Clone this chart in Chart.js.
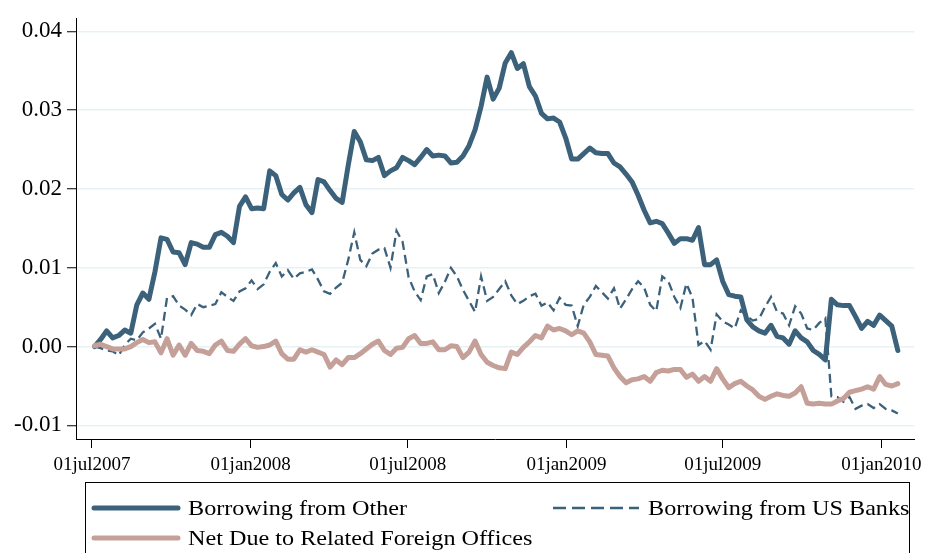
<!DOCTYPE html>
<html lang="en">
<head>
<meta charset="UTF-8">
<title>Borrowing</title>
<script src="https://cdn.jsdelivr.net/npm/chart.js"></script>
<style>
  body { margin: 0; background: #fff; }
  #wrap { position: relative; width: 928px; height: 553px; overflow: hidden; }
  #legend {
    position: absolute; left: 85px; top: 482px; width: 825px; height: 90px;
    border: 1px solid #000; box-sizing: border-box;
    font-family: "Liberation Serif", serif; font-size: 22px; color: #000;
  }
  .item { position: absolute; display: flex; align-items: center; height: 30px; white-space: nowrap; }
  .item svg { margin-right: 7px; }
  .item span { display: inline-block; transform: scaleX(1.1); transform-origin: left center; }
</style>
</head>
<body>
<div id="wrap">
  <canvas id="chart" width="928" height="553"></canvas>
  <div id="legend">
    <div class="item" style="left:5px; top:10px;">
      <svg width="90" height="10"><line x1="3" y1="5" x2="87" y2="5" stroke="rgb(60,97,122)" stroke-width="5" stroke-linecap="round"/></svg>
      <span>Borrowing from Other</span>
    </div>
    <div class="item" style="left:465px; top:10px;">
      <svg width="90" height="10"><line x1="2" y1="5" x2="88" y2="5" stroke="rgb(60,97,122)" stroke-width="2.5" stroke-dasharray="13,6"/></svg>
      <span>Borrowing from US Banks</span>
    </div>
    <div class="item" style="left:5px; top:40px;">
      <svg width="90" height="10"><line x1="3" y1="5" x2="87" y2="5" stroke="rgb(196,160,152)" stroke-width="5" stroke-linecap="round"/></svg>
      <span>Net Due to Related Foreign Offices</span>
    </div>
  </div>
</div>

<script>
// weekly observations, days counted from 01jul2007 (first week ends 04jul2007)
const firstDay = 3;
const tickDays = [0, 184, 366, 550, 731, 915];
const tickLabels = ['01jul2007', '01jan2008', '01jul2008', '01jan2009', '01jul2009', '01jan2010'];
const yTicks = [-0.01, 0, 0.01, 0.02, 0.03, 0.04];

const borrowingOther = [
  0, 0.0009, 0.0020, 0.0011, 0.0014, 0.0021, 0.0017, 0.0053, 0.0068, 0.0060,
  0.0095, 0.0138, 0.0136, 0.0120, 0.0119, 0.0104, 0.0132, 0.0130, 0.0126, 0.0126,
  0.0142, 0.0145, 0.0140, 0.0132, 0.0178, 0.0190, 0.0175, 0.0176, 0.0175, 0.0223,
  0.0217, 0.0193, 0.0186, 0.0195, 0.0202, 0.0180, 0.0170, 0.0212, 0.0209, 0.0198,
  0.0188, 0.0183, 0.0230, 0.0273, 0.0260, 0.0237, 0.0236, 0.0240, 0.0217, 0.0223,
  0.0227, 0.0240, 0.0236, 0.0231, 0.0240, 0.0250, 0.0242, 0.0243, 0.0242, 0.0233,
  0.0234, 0.0242, 0.0255, 0.0275, 0.0305, 0.0342, 0.0314, 0.0328, 0.0360, 0.0373,
  0.0353, 0.0359, 0.0330, 0.0318, 0.0296, 0.0289, 0.0290, 0.0285, 0.0265, 0.0238,
  0.0238, 0.0245, 0.0252, 0.0246, 0.0245, 0.0245, 0.0233, 0.0228, 0.0219, 0.0209,
  0.0192, 0.0173, 0.0157, 0.0159, 0.0156, 0.0144, 0.0131, 0.0137, 0.0137, 0.0135,
  0.0151, 0.0104, 0.0104, 0.0110, 0.0083, 0.0066, 0.0064, 0.0063, 0.0034, 0.0025,
  0.0020, 0.0017, 0.0027, 0.0013, 0.0011, 0.0003, 0.0020, 0.0011, 0.0006, -0.0005,
  -0.0010, -0.0017, 0.0060, 0.0053, 0.0052, 0.0052, 0.0038, 0.0023, 0.0032, 0.0027,
  0.0040, 0.0033, 0.0026, -0.0005
];

const borrowingUSBanks = [
  0, -0.0002, -0.0005, -0.0006, -0.0011, 0.0002, 0.0010, 0.0008, 0.0018, 0.0023,
  0.0029, 0.0010, 0.0062, 0.0064, 0.0052, 0.0047, 0.0040, 0.0054, 0.0050, 0.0052,
  0.0054, 0.0069, 0.0063, 0.0058, 0.0070, 0.0074, 0.0084, 0.0073, 0.0079, 0.0095,
  0.0106, 0.0089, 0.0097, 0.0086, 0.0093, 0.0095, 0.0098, 0.0085, 0.0070, 0.0067,
  0.0075, 0.0081, 0.0110, 0.0145, 0.0110, 0.0102, 0.0118, 0.0123, 0.0125, 0.0100,
  0.0147, 0.0133, 0.0088, 0.0070, 0.0059, 0.0089, 0.0092, 0.0068, 0.0082, 0.0100,
  0.0089, 0.0072, 0.0058, 0.0044, 0.0089, 0.0058, 0.0063, 0.0073, 0.0083, 0.0065,
  0.0054, 0.0058, 0.0064, 0.0067, 0.0052, 0.0056, 0.0046, 0.0062, 0.0053, 0.0052,
  0.0026, 0.0053, 0.0063, 0.0077, 0.0069, 0.0061, 0.0074, 0.0048, 0.0060, 0.0073,
  0.0083, 0.0075, 0.0053, 0.0045, 0.0089, 0.0083, 0.0063, 0.0049, 0.0080, 0.0062,
  0.0002, 0.0007, -0.0004, 0.0041, 0.0032, 0.0028, 0.0023, 0.0046, 0.0039, 0.0033,
  0.0035, 0.0050, 0.0063, 0.0044, 0.0042, 0.0027, 0.0051, 0.0042, 0.0023, 0.0021,
  0.0030, 0.0036, -0.0063, -0.0064, -0.0070, -0.0064, -0.0079, -0.0075, -0.0073, -0.0078,
  -0.0073, -0.0079, -0.0081, -0.0085
];

const netDueForeign = [
  0.0001, 0.0003, 0.0000, -0.0003, -0.0003, -0.0003, 0.0000, 0.0005, 0.0009, 0.0005,
  0.0006, -0.0008, 0.0010, -0.0011, 0.0002, -0.0011, 0.0004, -0.0005, -0.0006, -0.0009,
  0.0002, 0.0007, -0.0005, -0.0006, 0.0003, 0.0010, 0.0001, -0.0001, 0.0000, 0.0002,
  0.0007, -0.0009, -0.0016, -0.0016, -0.0004, -0.0007, -0.0004, -0.0007, -0.0010, -0.0026,
  -0.0017, -0.0023, -0.0014, -0.0014, -0.0009, -0.0003, 0.0003, 0.0007, -0.0005, -0.0010,
  -0.0002, -0.0001, 0.0010, 0.0014, 0.0004, 0.0004, 0.0006, -0.0004, -0.0004, 0.0001,
  0.0000, -0.0014, -0.0007, 0.0007, -0.0010, -0.0020, -0.0024, -0.0027, -0.0028, -0.0007,
  -0.0010, -0.0001, 0.0006, 0.0014, 0.0011, 0.0026, 0.0021, 0.0023, 0.0020, 0.0015,
  0.0020, 0.0017, 0.0006, -0.0010, -0.0011, -0.0012, -0.0027, -0.0038, -0.0046, -0.0042,
  -0.0041, -0.0038, -0.0044, -0.0033, -0.0030, -0.0031, -0.0029, -0.0029, -0.0039, -0.0035,
  -0.0044, -0.0038, -0.0044, -0.0028, -0.0041, -0.0052, -0.0047, -0.0044, -0.0050, -0.0055,
  -0.0063, -0.0067, -0.0063, -0.0060, -0.0062, -0.0063, -0.0059, -0.0051, -0.0072, -0.0073,
  -0.0072, -0.0073, -0.0073, -0.0069, -0.0066, -0.0058, -0.0056, -0.0054, -0.0051, -0.0054,
  -0.0038, -0.0048, -0.0050, -0.0047
];

const weekDays = borrowingOther.map((_, i) => firstDay + 7 * i);
const toPoints = vals => vals.map((v, i) => ({ x: weekDays[i], y: v }));

const blue = 'rgb(60,97,122)';
const pink = 'rgb(196,160,152)';
const serif = '"Liberation Serif", "Times New Roman", serif';

new Chart(document.getElementById('chart'), {
  type: 'line',
  data: {
    datasets: [
      { label: 'Net Due to Related Foreign Offices', data: toPoints(netDueForeign),
        borderColor: pink, borderWidth: 5, borderJoinStyle: 'round', borderCapStyle: 'round' },
      { label: 'Borrowing from US Banks', data: toPoints(borrowingUSBanks),
        borderColor: blue, borderWidth: 2.3, borderDash: [9, 5] },
      { label: 'Borrowing from Other', data: toPoints(borrowingOther),
        borderColor: blue, borderWidth: 5, borderJoinStyle: 'round', borderCapStyle: 'round' }
    ]
  },
  options: {
    responsive: false,
    animation: false,
    layout: { padding: { top: 7, right: 12, left: 0, bottom: 0 } },
    elements: { point: { radius: 0 }, line: { tension: 0 } },
    plugins: { legend: { display: false }, tooltip: { enabled: false } },
    scales: {
      x: {
        type: 'linear',
        min: -18.5,
        max: 953,
        afterBuildTicks: s => { s.ticks = tickDays.map(v => ({ value: v })); },
        afterFit: s => { s.height = 114; },
        ticks: {
          autoSkip: false, maxRotation: 0, padding: 6, color: '#000',
          font: { family: serif, size: 19 },
          callback: v => tickLabels[tickDays.indexOf(v)]
        },
        grid: { drawOnChartArea: false, tickLength: 9, tickColor: '#000', tickWidth: 1 },
        border: { color: '#000', width: 1 }
      },
      y: {
        min: -0.01173,
        max: 0.0416,
        afterBuildTicks: s => { s.ticks = yTicks.map(v => ({ value: v })); },
        afterFit: s => { s.width = 76; },
        ticks: {
          padding: 5, color: '#000',
          font: { family: serif, size: 23 },
          callback: v => v.toFixed(2)
        },
        grid: { color: 'rgb(232,241,243)', lineWidth: 1.5, tickLength: 9, tickColor: '#000', tickWidth: 1 },
        border: { color: '#000', width: 1 }
      }
    }
  }
});
</script>
</body>
</html>
